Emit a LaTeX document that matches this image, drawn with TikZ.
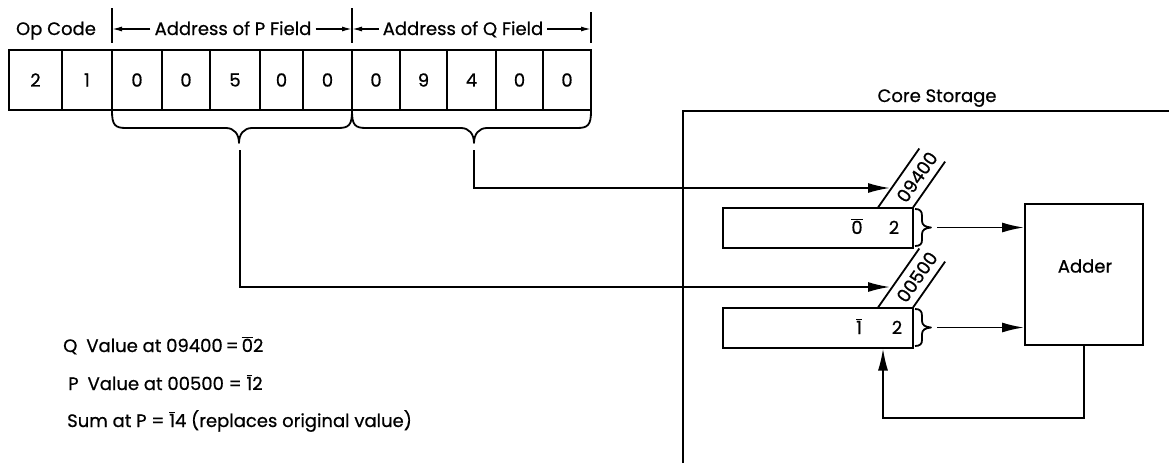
\documentclass[tikz,border=0pt]{standalone}
\usepackage{fontspec}
\setmainfont{Poppins}[FakeBold=0.7]
\usetikzlibrary{arrows.meta}
\newcommand\obar[1]{$\overline{\mbox{#1}}$}
\begin{document}
\begin{tikzpicture}[x=1pt,y=-1pt,
  txt/.style={font=\fontsize{18}{20}\selectfont, inner sep=0pt},
  cell/.style={draw, line width=2pt, minimum height=60pt, inner sep=0pt, font=\fontsize{18}{20}\selectfont},
  box/.style={draw, line width=2pt, inner sep=0pt},
  conn/.style={line width=1.8pt},
  arr/.style={conn, -{Latex[length=22pt,width=10pt]}},
  harr/.style={line width=1.4pt, -{Latex[length=10pt,width=5pt]}},
  tick/.style={line width=1.4pt},
  brace/.style={line width=1.8pt, line join=round},
]
\useasboundingbox (0,0) rectangle (1169,463);

% header labels
\node[txt, anchor=base] (op) at (56,35) {Op Code};
\node[txt, anchor=base] (pf) at (233,35) {Address of P Field};
\node[txt, anchor=base] (qf) at (463,35) {Address of Q Field};
\coordinate (a1) at (112,29);
\coordinate (a2) at (352,29);
\coordinate (a3) at (591,29);
\draw[tick] (112,8) -- (112,43);
\draw[tick] (352,8) -- (352,43);
\draw[tick] (591,12) -- (591,43);
\draw[harr, shorten <=4pt] (pf.west |- a1) -- (a1);
\draw[harr, shorten <=4pt] (pf.east |- a2) -- (a2);
\draw[harr, shorten <=4pt] (qf.west |- a2) -- (a2);
\draw[harr, shorten <=4pt] (qf.east |- a3) -- (a3);

% instruction register cells
\foreach \l/\r/\d [count=\i] in {9/62/2, 62/112/1, 112/162/0, 162/210/0, 210/260/5, 260/303/0, 303/352/0, 352/400/0, 400/447/9, 447/496/4, 496/543/0, 543/591/0}{
  \pgfmathsetmacro\w{\r-\l}
  \pgfmathsetmacro\cx{(\l+\r)/2}
  \node[cell, minimum width=\w pt] (c\i) at (\cx,80) {\d};
}

% braces under fields
\draw[brace] (112,111) .. controls (112,125) and (115,128) .. (126,128) -- (226,128)
  .. controls (234,128) and (239,134) .. (239,143)
  .. controls (239,134) and (244,128) .. (252,128) -- (338,128)
  .. controls (349,128) and (352,125) .. (352,111);
\draw[brace] (352,111) .. controls (352,125) and (355,128) .. (366,128) -- (461,128)
  .. controls (469,128) and (474,134) .. (474,143)
  .. controls (474,134) and (479,128) .. (487,128) -- (577,128)
  .. controls (588,128) and (591,125) .. (591,111);

% core storage frame
\draw[conn] (683,463) -- (683,111) -- (1169,111);
\node[txt, anchor=base] (cs) at (937,102) {Core Storage};

% storage registers
\node[box, minimum width=190pt, minimum height=40pt] (rq) at (818,227.5) {};
\node[box, minimum width=190pt, minimum height=40pt] (rp) at (818,327.5) {};
\node[txt, anchor=base] (rq1) at (857,234) {\obar{0}};
\node[txt, anchor=base] (rq2) at (894,234) {2};
\node[txt, anchor=base] (rp1) at (859,334) {\obar{1}};
\node[txt, anchor=base] (rp2) at (897,334) {2};

% slanted address labels
\draw[conn] (878,207.5) -- (919.3,148.5);
\draw[conn] (913,207.5) -- (945.1,161.6);
\node[txt, rotate=55] (lq) at (917,177) {09400};
\draw[conn] (878,307.5) -- (919.3,248.5);
\draw[conn] (913,307.5) -- (945.1,261.6);
\node[txt, rotate=55] (lp) at (917,277) {00500};

% register braces
\foreach \c in {227.5,327.5}{
  \draw[brace] (915,{\c-18.5}) .. controls (920,{\c-18.5}) and (922,{\c-16.5}) .. (922,{\c-11.5}) -- (922,{\c-6.5})
    .. controls (922,{\c-2.5}) and (925,{\c-0.5}) .. (931,\c)
    .. controls (925,{\c+0.5}) and (922,{\c+2.5}) .. (922,{\c+6.5}) -- (922,{\c+12.5})
    .. controls (922,{\c+16.5}) and (920,{\c+18.5}) .. (915,{\c+18.5});
}

% adder
\node[box, minimum width=118pt, minimum height=141pt] (adder) at (1084,274.5) {};
\node[txt] (addlbl) at (1085,266) {Adder};

% connectors
\coordinate (pstart) at (240,150);
\coordinate (pend) at (890,287);
\coordinate (qstart) at (474,150);
\coordinate (qend) at (890,188);
\draw[arr] (pstart) |- (pend);
\draw[arr] (qstart) |- (qend);
\coordinate (bq) at (937,227.5);
\coordinate (bp) at (937,327.5);
\draw[arr] (bq) -- (bq -| adder.west);
\draw[arr] (bp) -- (bp -| adder.west);
\coordinate (fb) at (883,418);
\draw[arr] (adder.south) |- (fb) -- (fb |- rp.south);

% notes
\node[txt, anchor=base west] (tq) at (63,352) {Q\enspace Value at 09400\,=\,\obar{0}2};
\node[txt, anchor=base west] (tp) at (68,390) {P\enspace Value at 00500 = \obar{1}2};
\node[txt, anchor=base west] (ts) at (67,427) {Sum at P = \obar{1}4 (replaces original value)};
\end{tikzpicture}
\end{document}
